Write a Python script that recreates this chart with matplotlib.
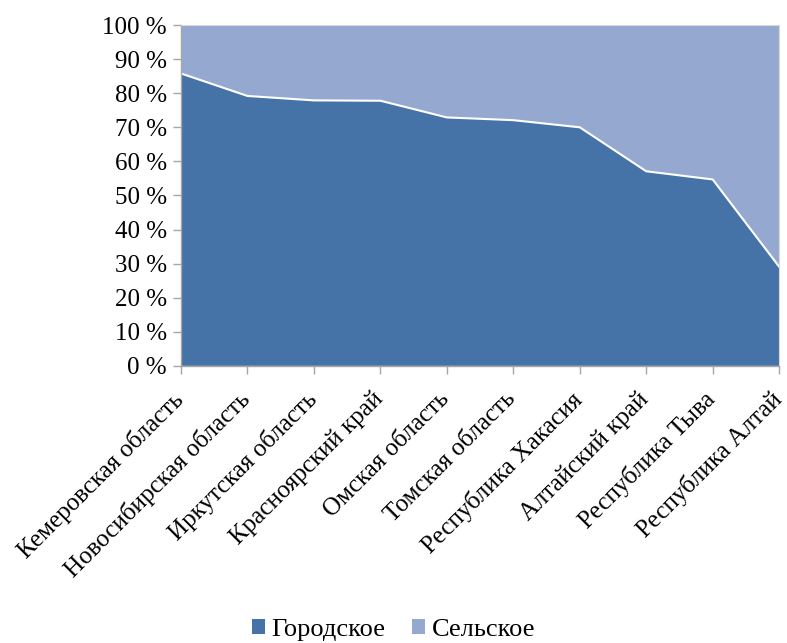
import matplotlib
matplotlib.use("Agg")
import matplotlib.pyplot as plt
from matplotlib.patches import Patch
from matplotlib.transforms import ScaledTranslation
import numpy as np

categories = ["Кемеровская область", "Новосибирская область", "Иркутская область",
              "Красноярский край", "Омская область", "Томская область",
              "Республика Хакасия", "Алтайский край", "Республика Тыва", "Республика Алтай"]
urban = [85.8, 79.2, 77.9, 77.8, 72.9, 72.1, 70.0, 57.1, 54.7, 29.1]
rural = [100 - u for u in urban]
series_names = ["Городское", "Сельское"]
yticks = list(range(0, 101, 10))
ytick_labels = [f"{v} %" for v in yticks]

c_urban = "#4572A7"
c_rural = "#95A9D0"

plt.rcParams['font.family'] = ['Liberation Serif', 'DejaVu Serif']

fig = plt.figure(figsize=(7.87, 6.43), dpi=100)
ax = fig.add_axes([0.23, 0.431, 0.76, 0.530])

x = np.arange(len(categories))
ax.stackplot(x, urban, rural, colors=[c_urban, c_rural], edgecolor='none')
ax.plot(x, urban, color='white', lw=1.5)

ax.set_xlim(0, len(categories) - 1)
ax.set_ylim(0, 100)
ax.set_yticks(yticks)
ax.set_yticklabels(ytick_labels, fontsize=18)
ax.set_xticks(x)
ax.set_xticklabels([])

offset = ScaledTranslation(-9 / 100, -22 / 100, fig.dpi_scale_trans)
label_tf = ax.get_xaxis_transform() + offset
for xi, lab in zip(x, categories):
    ax.text(xi, 0, lab, transform=label_tf, rotation=45, ha='right', va='top',
            rotation_mode='anchor', fontsize=18, clip_on=False)

for s in ['top', 'right']:
    ax.spines[s].set_color('#D9D9D9')
    ax.spines[s].set_linewidth(0.8)
for s in ['left', 'bottom']:
    ax.spines[s].set_color('#A6A6A6')
    ax.spines[s].set_linewidth(1.0)
ax.tick_params(axis='both', direction='out', color='#A6A6A6', length=6, width=1)
ax.tick_params(axis='y', pad=4)

handles = [Patch(facecolor=c_urban, edgecolor='none'), Patch(facecolor=c_rural, edgecolor='none')]
fig.legend(handles, series_names, loc='center', bbox_to_anchor=(0.5, 0.02),
           ncol=2, frameon=False, fontsize=19, handlelength=0.5, handleheight=0.5,
           handletextpad=0.25, columnspacing=1.0, borderpad=0.1)

fig.savefig("out.png", dpi=100)
